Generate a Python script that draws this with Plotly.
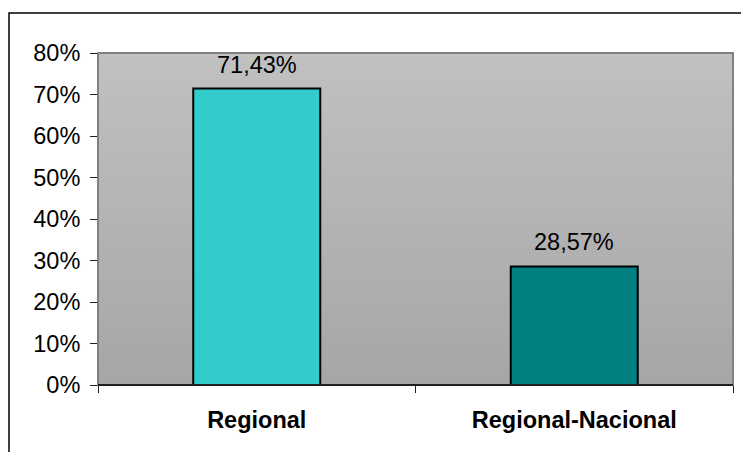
import plotly.graph_objects as go

categories = ["Regional", "Regional-Nacional"]
values = [71.43, 28.57]
bar_colors = ["#33CCCC", "#008080"]
y_ticks = [0, 10, 20, 30, 40, 50, 60, 70, 80]
y_tick_labels = [f"{v}%" for v in y_ticks]
value_labels = [f"{v:.2f}".replace(".", ",") + "%" for v in values]

FONT = "Liberation Sans, Arial, sans-serif"
FS = 23.5
W, H = 741, 452
L, R, T, B = 98, 8, 53, 67
pw, ph = W - L - R, H - T - B

fig = go.Figure()
fig.add_trace(go.Bar(
    x=categories, y=values, width=0.4,
    marker=dict(color=bar_colors, line=dict(color="black", width=2)),
    hoverinfo="skip",
))

shapes = []
# gradient background
N = 60
top_c, bot_c = 193, 166
for i in range(N):
    f = (i + 0.5) / N
    c = round(bot_c + (top_c - bot_c) * f)
    shapes.append(dict(type="rect", xref="paper", yref="paper",
                       x0=0, x1=1, y0=i / N, y1=(i + 1) / N + 0.002,
                       fillcolor=f"rgb({c},{c},{c})", line=dict(width=0),
                       layer="below"))
# plot area border
shapes.append(dict(type="rect", xref="paper", yref="paper", x0=0, x1=1, y0=0, y1=1,
                   line=dict(color="#808080", width=2), layer="below"))
# bottom axis line
shapes.append(dict(type="line", xref="paper", yref="paper", x0=0, x1=1, y0=0, y1=0,
                   line=dict(color="#202020", width=2), layer="above"))
# outer chart border
ox0 = (9 - L) / pw
oy1 = 1 + (T - 13) / ph
shapes.append(dict(type="rect", xref="paper", yref="paper",
                   x0=ox0, x1=1.2, y0=-0.5, y1=oy1,
                   line=dict(color="black", width=1.5), layer="above"))

annotations = []
for c, v, t in zip(categories, values, value_labels):
    annotations.append(dict(x=c, y=v, text=t, showarrow=False, yanchor="bottom",
                            yshift=9, font=dict(family=FONT, size=FS, color="black")))

fig.update_layout(
    width=W, height=H,
    margin=dict(l=L, r=R, t=T, b=B),
    paper_bgcolor="white", plot_bgcolor="#b0b0b0",
    showlegend=False, bargap=0.6,
    shapes=shapes, annotations=annotations,
    font=dict(family=FONT, size=FS, color="black"),
    xaxis=dict(type="category", tickson="boundaries", ticks="outside", ticklen=7,
               tickcolor="#202020", showgrid=False, showline=False,
               tickfont=dict(family=FONT, size=FS, color="black", weight="bold"),
               ticklabelstandoff=18, fixedrange=True),
    yaxis=dict(range=[0, 80], tickvals=y_ticks, ticktext=y_tick_labels,
               ticks="outside", ticklen=7, tickcolor="#202020", showgrid=False,
               showline=False, zeroline=False,
               tickfont=dict(family=FONT, size=FS, color="black"),
               ticklabelstandoff=5, fixedrange=True),
)

fig.write_html("out.html", config={"displayModeBar": False})
